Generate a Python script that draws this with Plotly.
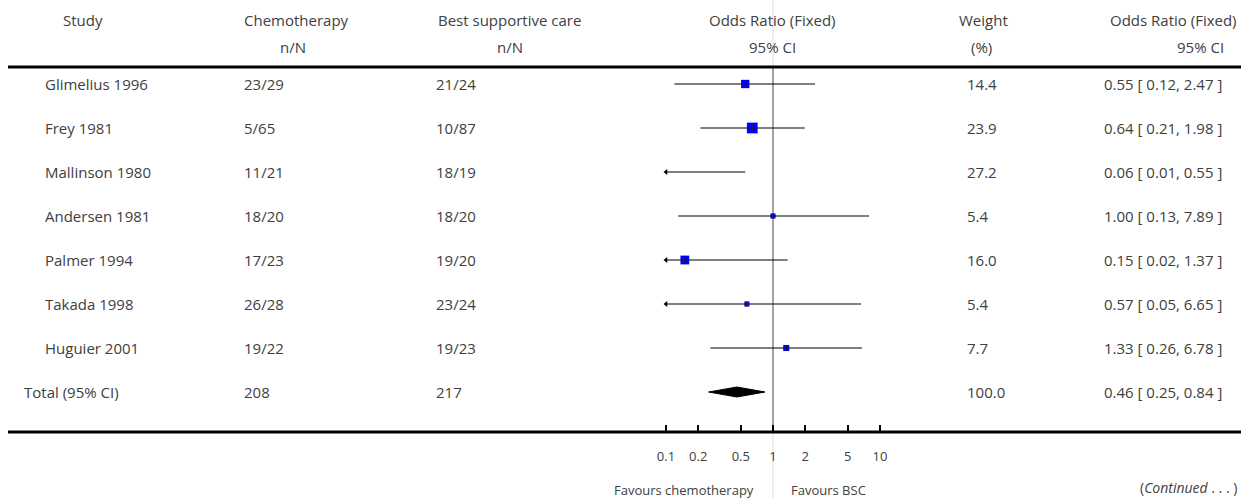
import numpy as np
import plotly.graph_objects as go

# ---------------- data ----------------
studies = ["Glimelius 1996", "Frey 1981", "Mallinson 1980", "Andersen 1981",
           "Palmer 1994", "Takada 1998", "Huguier 2001"]
chemo_nN = ["23/29", "5/65", "11/21", "18/20", "17/23", "26/28", "19/22"]
bsc_nN = ["21/24", "10/87", "18/19", "18/20", "19/20", "23/24", "19/23"]
weights = [14.4, 23.9, 27.2, 5.4, 16.0, 5.4, 7.7]
or_est = [0.55, 0.64, 0.06, 1.00, 0.15, 0.57, 1.33]
or_lo = [0.12, 0.21, 0.01, 0.13, 0.02, 0.05, 0.26]
or_hi = [2.47, 1.98, 0.55, 7.89, 1.37, 6.65, 6.78]

total_label = "Total (95% CI)"
total_chemo = "208"
total_bsc = "217"
total_weight = 100.0
total_est, total_lo, total_hi = 0.46, 0.25, 0.84

tick_vals = [0.1, 0.2, 0.5, 1, 2, 5, 10]
tick_text = ["0.1", "0.2", "0.5", "1", "2", "5", "10"]

# ---------------- layout constants ----------------
W, H = 1250, 498
X_ONE = 773.0        # pixel of OR = 1
PX_DEC = 107.0       # pixels per decade
ROW0, ROWH = 84.0, 44.0
SHOW_MIN, SHOW_MAX = 0.1, 10.0
TXT = "#404040"
FONT = "Open Sans"
FS = 15


def ry(p):
    """pixel y -> row units"""
    return (p - ROW0) / ROWH


def px(p):
    return p / W


n = len(studies)
rows = list(range(n))
total_row = n

fig = go.Figure()

# reference line at OR = 1
fig.add_trace(go.Scatter(x=[1, 1], y=[ry(0), ry(H)], mode="lines",
                         line=dict(color="#dddddd", width=1), hoverinfo="skip", showlegend=False))
fig.add_trace(go.Scatter(x=[1, 1], y=[ry(67), ry(432)], mode="lines",
                         line=dict(color="#8a8a8a", width=1.5), hoverinfo="skip", showlegend=False))

# CI lines (clipped to display range)
for i in rows:
    lo = max(or_lo[i], SHOW_MIN)
    hi = min(or_hi[i], SHOW_MAX)
    fig.add_trace(go.Scatter(x=[lo, hi], y=[i, i], mode="lines",
                             line=dict(color="black", width=1.2), hoverinfo="skip", showlegend=False))

# arrows where CI clipped
arr_x, arr_y = [], []
for i in rows:
    if or_lo[i] < SHOW_MIN:
        arr_x.append(SHOW_MIN)
        arr_y.append(i)
fig.add_trace(go.Scatter(x=arr_x, y=arr_y, mode="markers",
                         marker=dict(symbol="triangle-left", size=5, color="black"),
                         hoverinfo="skip", showlegend=False))

# squares sized by weight
vis = [i for i in rows if SHOW_MIN <= or_est[i] <= SHOW_MAX]
fig.add_trace(go.Scatter(
    x=[or_est[i] for i in vis], y=[i for i in vis], mode="markers",
    marker=dict(symbol="square", color="#0000ff", opacity=1,
                size=[2.2 * np.sqrt(weights[i]) for i in vis], line=dict(width=0)),
    hoverinfo="skip", showlegend=False))
fig.add_trace(go.Scatter(
    x=[or_est[i] for i in vis], y=[i for i in vis], mode="markers",
    marker=dict(symbol="cross-thin", size=4, line=dict(color="#202020", width=1)),
    hoverinfo="skip", showlegend=False))

# total diamond
dh = 5.0 / ROWH
fig.add_trace(go.Scatter(
    x=[total_lo, total_est, total_hi, total_est, total_lo],
    y=[total_row, total_row - dh, total_row, total_row + dh, total_row],
    mode="lines", fill="toself", fillcolor="black", line=dict(color="black", width=1),
    hoverinfo="skip", showlegend=False))

annotations = []


def txt(x, y, s, anchor="left", size=FS, color=TXT, yref="y"):
    annotations.append(dict(x=px(x), y=y, xref="paper", yref=yref, text=s,
                            showarrow=False, xanchor=anchor, yanchor="middle",
                            font=dict(family=FONT, size=size, color=color)))


# headers
h1, h2 = ry(20), ry(47)
txt(83, h1, "Study", "center")
txt(296, h1, "Chemotherapy", "center")
txt(293, h2, "n/N", "center")
txt(509, h1, "Best supportive care", "center")
txt(510, h2, "n/N", "center")
txt(772, h1, "Odds Ratio (Fixed)", "center")
txt(773, h2, "95% CI", "center")
txt(983, h1, "Weight", "center")
txt(981, h2, "(%)", "center")
txt(1239, h1, "Odds Ratio (Fixed)", "right")
txt(1226, h2, "95% CI", "right")

# rows
for i in rows:
    txt(43, i, studies[i])
    txt(242, i, chemo_nN[i])
    txt(434, i, bsc_nN[i])
    txt(965, i, f"{weights[i]:.1f}")
    txt(1102, i, f"{or_est[i]:.2f} [ {or_lo[i]:.2f}, {or_hi[i]:.2f} ]")

txt(22, total_row, total_label)
txt(242, total_row, total_chemo)
txt(434, total_row, total_bsc)
txt(965, total_row, f"{total_weight:.1f}")
txt(1102, total_row, f"{total_est:.2f} [ {total_lo:.2f}, {total_hi:.2f} ]")

# footer labels
txt(756, ry(490), "Favours chemotherapy", "right", size=13)
txt(789, ry(490), "Favours BSC", "left", size=13)
txt(1239, ry(487), "(<i>Continued</i> . . . )", "right", size=14)

shapes = [
    dict(type="line", xref="paper", yref="paper", x0=px(8), x1=px(1241),
         y0=1 - 67 / H, y1=1 - 67 / H, line=dict(color="black", width=3)),
    dict(type="line", xref="paper", yref="paper", x0=px(8), x1=px(1241),
         y0=1 - 432 / H, y1=1 - 432 / H, line=dict(color="black", width=3)),
]

fig.update_layout(
    width=W, height=H, margin=dict(l=0, r=0, t=0, b=0),
    paper_bgcolor="white", plot_bgcolor="white",
    showlegend=False,
    annotations=annotations, shapes=shapes,
    xaxis=dict(type="log", range=[(0 - X_ONE) / PX_DEC, (W - X_ONE) / PX_DEC],
               showgrid=False, zeroline=False, showline=False,
               anchor="free", position=1 - 432 / H,
               ticks="inside", ticklen=7, tickwidth=2, tickcolor="black",
               tickvals=tick_vals, ticktext=tick_text, ticklabelstandoff=15,
               tickfont=dict(family=FONT, size=13, color=TXT), fixedrange=True),
    yaxis=dict(range=[ry(H), ry(0)], visible=False, fixedrange=True),
)

fig.write_html("out.html")
